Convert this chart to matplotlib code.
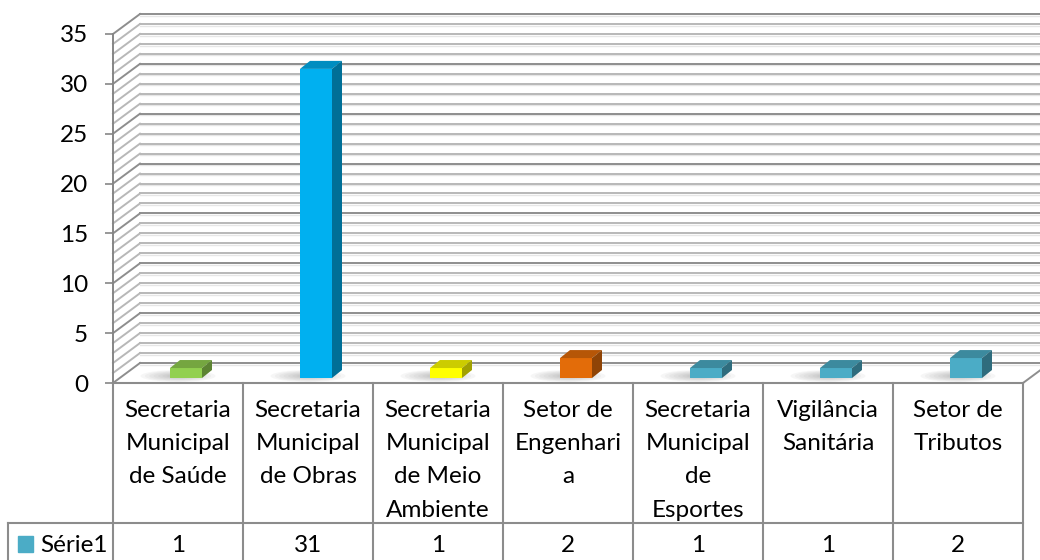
import numpy as np
import matplotlib.pyplot as plt
from matplotlib.patches import Polygon, Rectangle, Ellipse
from matplotlib.colors import to_rgb

plt.rcParams['font.family'] = ['Lato', 'DejaVu Sans']

categorias = ["Secretaria\nMunicipal\nde Saúde",
              "Secretaria\nMunicipal\nde Obras",
              "Secretaria\nMunicipal\nde Meio\nAmbiente",
              "Setor de\nEngenhari\na",
              "Secretaria\nMunicipal\nde\nEsportes",
              "Vigilância\nSanitária",
              "Setor de\nTributos"]
valores = [1, 31, 1, 2, 1, 1, 2]
cores = ["#92D050", "#00B0F0", "#FFFF00", "#E36C09", "#4BACC6", "#4BACC6", "#4BACC6"]
serie = "Série1"
cor_serie = "#4BACC6"
yticks = [0, 5, 10, 15, 20, 25, 30, 35]

W, H = 1040, 560
fig = plt.figure(figsize=(W / 100, H / 100), dpi=100)
ax = fig.add_axes([113 / W, (H - 383) / H, 910 / W, 349 / H])
n = len(categorias)
ymax = 35
ax.set_xlim(0, n)
ax.set_ylim(0, ymax)

# pixels -> data units
ux = 910 / n
uy = 349 / ymax
def px(d):
    return d / ux
def py(d):
    return d / uy

fs = 17.5
DX, DY = px(27), py(20)   # depth of the 3d box
maior, menor, claro = '#8E8E8E', '#B8B8B8', '#E6E6E6'

# back wall and side wall grid
for v in range(0, ymax + 1):
    c = maior if v % 5 == 0 else menor
    ax.plot([DX, n + DX + 1], [v + DY - py(1.6)] * 2, color=claro, lw=1.0, clip_on=False, zorder=1)
    ax.plot([DX, n + DX + 1], [v + DY] * 2, color=c, lw=1.4, clip_on=False, zorder=2)
    ax.plot([0, DX], [v, v + DY], color=c, lw=1.4, clip_on=False, zorder=2)
ax.plot([n, n + DX], [0, DY], color=maior, lw=1.4, clip_on=False, zorder=2)

# 3d columns
w = px(32)
ddx, ddy = px(10), py(8)
base = py(5)
def escurece(c, f):
    r, g, b = to_rgb(c)
    return (r * f, g * f, b * f)

for i, (v, c) in enumerate(zip(valores, cores)):
    x0 = i + 0.5 - w / 2 + px(8)
    # soft shadow on the floor
    for k in np.linspace(1.0, 0.3, 7):
        ax.add_patch(Ellipse((x0 + w / 2 - px(8), base + py(2)), px(75) * k, py(12) * k,
                             color='#606060', alpha=0.05, lw=0, clip_on=False, zorder=3))
    top = base + v
    ax.add_patch(Polygon([(x0, base), (x0 + w, base), (x0 + w, top), (x0, top)],
                         closed=True, fc=c, ec='none', clip_on=False, zorder=5))
    ax.add_patch(Polygon([(x0, top), (x0 + w, top), (x0 + w + ddx, top + ddy), (x0 + ddx, top + ddy)],
                         closed=True, fc=escurece(c, 0.8), ec='none', clip_on=False, zorder=5))
    ax.add_patch(Polygon([(x0 + w, base), (x0 + w + ddx, base + ddy), (x0 + w + ddx, top + ddy), (x0 + w, top)],
                         closed=True, fc=escurece(c, 0.63), ec='none', clip_on=False, zorder=5))

# value axis
for s in ['top', 'right', 'bottom']:
    ax.spines[s].set_visible(False)
ax.spines['left'].set_color('#868686')
ax.spines['left'].set_linewidth(1.4)
ax.set_xticks([])
ax.set_yticks(yticks)
ax.tick_params(axis='y', length=5.8, width=1.2, color='#868686', pad=12, labelsize=fs)
ax.patch.set_visible(False)

# data table
cor_tab = '#8C8C8C'
fundo = py(-177)
linha = py(-140)
ax.plot([0, n], [0, 0], color=cor_tab, lw=1.5, clip_on=False, zorder=4)
for i in range(n + 1):
    ax.plot([i, i], [0, fundo], color=cor_tab, lw=1.5, clip_on=False, zorder=4)
ax.plot([px(-105), n], [linha, linha], color=cor_tab, lw=1.5, clip_on=False, zorder=4)
ax.plot([px(-105), px(-105)], [linha, fundo], color=cor_tab, lw=1.5, clip_on=False, zorder=4)

for i, (cat, v) in enumerate(zip(categorias, valores)):
    ax.text(i + 0.5, py(-17), cat, ha='center', va='top', fontsize=fs, linespacing=1.72, clip_on=False)
    ax.text(i + 0.5, py(-162), str(v), ha='center', va='center', fontsize=fs, clip_on=False)

ax.add_patch(Rectangle((px(18 - 113), py(383 - 552)), px(15), py(16), color=cor_serie, clip_on=False))
ax.text(px(40 - 113), py(383 - 545), serie, ha='left', va='center', fontsize=fs, clip_on=False)

fig.savefig('out.png', dpi=100)
